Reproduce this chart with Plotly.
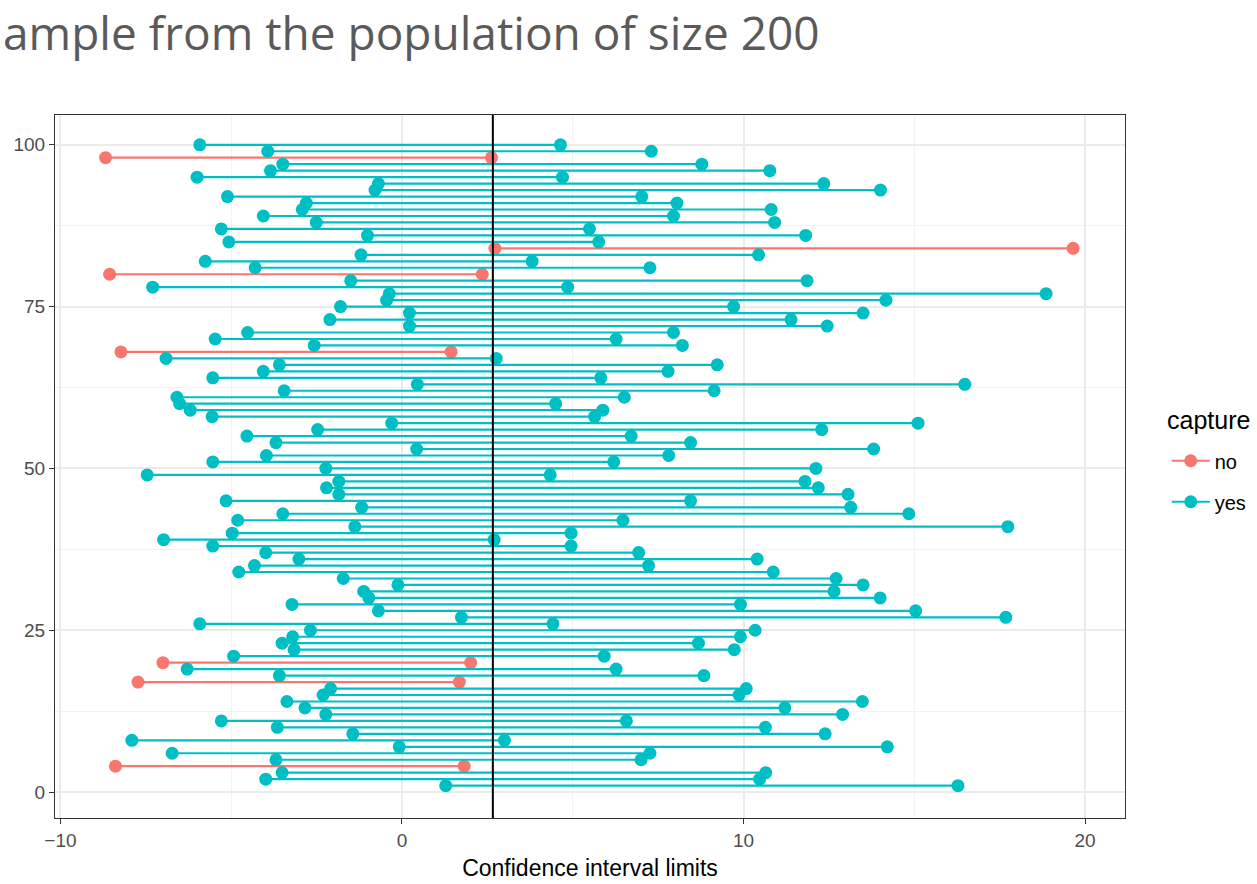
import plotly.graph_objects as go

# Confidence intervals, sample 1..100 (bottom to top)
sample_id = list(range(1, 101))
lower = [1.28, -3.99, -3.51, -8.39, -3.69, -6.73, -0.08, -7.91, -1.44, -3.65,
         -5.29, -2.23, -2.84, -3.37, -2.31, -2.09, -7.73, -3.59, -6.29, -7.00,
         -4.93, -3.16, -3.51, -3.20, -2.68, -5.92, 1.74, -0.69, -3.22, -0.97,
         -1.12, -0.12, -1.72, -4.78, -4.32, -3.02, -3.99, -5.54, -6.98, -4.97,
         -1.38, -4.81, -3.49, -1.18, -5.15, -1.85, -2.21, -1.85, -7.46, -2.23,
         -5.54, -3.97, 0.43, -3.69, -4.54, -2.47, -0.30, -5.56, -6.20, -6.51,
         -6.59, -3.45, 0.45, -5.54, -4.06, -3.59, -6.91, -8.23, -2.57, -5.47,
         -4.52, 0.22, -2.11, 0.22, -1.80, -0.45, -0.37, -7.30, -1.50, -8.56,
         -4.30, -5.76, -1.20, 2.72, -5.07, -1.01, -5.29, -2.51, -4.06, -2.92,
         -2.80, -5.11, -0.79, -0.69, -6.00, -3.85, -3.49, -8.68, -3.93, -5.92]
upper = [16.28, 10.47, 10.65, 1.82, 7.00, 7.26, 14.21, 3.00, 12.39, 10.64,
         6.57, 12.90, 11.21, 13.48, 9.87, 10.08, 1.68, 8.84, 6.27, 2.01,
         5.92, 9.73, 8.68, 9.91, 10.34, 4.42, 17.68, 15.04, 9.91, 14.00,
         12.65, 13.50, 12.71, 10.87, 7.22, 10.40, 6.93, 4.95, 2.70, 4.95,
         17.74, 6.47, 14.84, 13.14, 8.45, 13.06, 12.19, 11.80, 4.34, 12.12,
         6.20, 7.81, 13.81, 8.45, 6.71, 12.29, 15.11, 5.64, 5.88, 4.50,
         6.51, 9.14, 16.48, 5.82, 7.79, 9.23, 2.76, 1.44, 8.21, 6.27,
         7.95, 12.45, 11.39, 13.50, 9.71, 14.17, 18.86, 4.85, 11.86, 2.35,
         7.26, 3.81, 10.44, 19.65, 5.76, 11.82, 5.49, 10.91, 7.95, 10.81,
         8.05, 7.02, 14.01, 12.35, 4.70, 10.77, 8.78, 2.62, 7.30, 4.64]
pop_mean = 2.66
capture_levels = ["no", "yes"]
capture_colors = {"no": "#F8766D", "yes": "#00BFC4"}

title_text = "ample from the population of size 200"
x_title = "Confidence interval limits"
legend_title = "capture"
x_ticks = [-10, 0, 10, 20]
y_ticks = [0, 25, 50, 75, 100]

capture = ["yes" if lo <= pop_mean <= up else "no" for lo, up in zip(lower, upper)]

fig = go.Figure()
for lvl in capture_levels:
    xs, ys = [], []
    for i, lo, up, c in zip(sample_id, lower, upper, capture):
        if c == lvl:
            xs += [lo, up, None]
            ys += [i, i, None]
    fig.add_trace(go.Scatter(
        x=xs, y=ys, mode="lines+markers", name=lvl, legendgroup=lvl,
        line=dict(color=capture_colors[lvl], width=2.2),
        marker=dict(color=capture_colors[lvl], size=13),
        connectgaps=False,
    ))

fig.add_vline(x=pop_mean, line=dict(color="black", width=2))

sans = "Liberation Sans, Arial, sans-serif"
tick_font = dict(family=sans, size=19, color="#4D4D4D")
fig.update_xaxes(
    range=[-10.16, 21.17], tickvals=x_ticks, ticks="outside", ticklen=5,
    tickcolor="#333333", tickfont=tick_font, showgrid=True,
    gridcolor="#EBEBEB", gridwidth=1.6, zeroline=False,
    minor=dict(dtick=5, tick0=-5, showgrid=True, gridcolor="#F2F2F2", gridwidth=0.9),
    showline=True, linecolor="#333333", linewidth=1, mirror=True,
    automargin=False,
    title=dict(text=x_title, font=dict(family=sans, size=23, color="black"), standoff=10),
)
fig.update_yaxes(
    range=[-4.0, 104.6], tickvals=y_ticks, ticks="outside", ticklen=5,
    tickcolor="#333333", tickfont=tick_font, showgrid=True,
    gridcolor="#EBEBEB", gridwidth=1.6, zeroline=False,
    minor=dict(dtick=25, tick0=12.5, showgrid=True, gridcolor="#F2F2F2", gridwidth=0.9),
    showline=True, linecolor="#333333", linewidth=1, mirror=True,
    automargin=False,
)

fig.add_annotation(
    text=title_text, xref="paper", yref="paper", x=-0.0505, y=1.118,
    xanchor="left", yanchor="middle", showarrow=False,
    font=dict(family="Open Sans, sans-serif", size=46, color="#5A5A5A"),
)
fig.add_annotation(
    text=legend_title, xref="paper", yref="paper", x=1.037, y=0.566,
    xanchor="left", yanchor="middle", showarrow=False,
    font=dict(family=sans, size=25, color="black"),
)

fig.update_layout(
    width=1257, height=884,
    margin=dict(l=55, r=132, t=115, b=66, autoexpand=False),
    plot_bgcolor="white", paper_bgcolor="white",
    legend=dict(
        font=dict(family=sans, size=20, color="black"),
        x=1.039, y=0.479, xanchor="left", yanchor="middle",
        tracegroupgap=12, itemwidth=38,
    ),
)

fig.write_html("out.html",
               config={"displayModeBar": False},
               post_script="document.body.style.margin='0px';document.body.style.overflow='hidden';")
